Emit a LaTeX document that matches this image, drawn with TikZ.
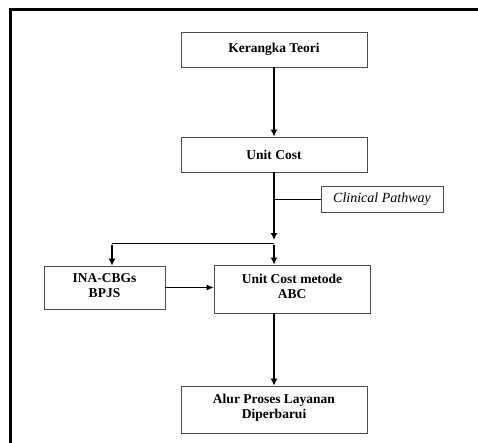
\documentclass[tikz,border=0pt]{standalone}
\usepackage{fontspec}
\setmainfont{Liberation Serif}
\usetikzlibrary{positioning,arrows.meta}

\begin{document}
\begin{tikzpicture}[x=1pt, y=-1pt, node distance=105pt]
			\tikzstyle{box} = [rectangle, draw=black!70, line width=0.8pt, align=center, inner sep=0pt, font=\fontsize{13.5}{15}\selectfont\bfseries];
			\tikzstyle{arrow} = [line width=1.3pt, ->, >={Latex[length=7pt,width=7pt]}];
			\tikzstyle{thinarrow} = [line width=0.8pt, ->, >={Latex[length=7pt,width=6pt]}];
			\tikzstyle{line} = [line width=0.8pt];
			\clip (0,0) rectangle (478,443);
			\draw [line width=3pt] (10,10) rectangle (500,470);
			\node (teori) [box, minimum width=186pt, minimum height=35pt] at (274,49.5) {Kerangka Teori};
			\node (unitcost) [box, minimum width=186pt, minimum height=35pt, below of=teori] {Unit Cost};
			\node (clinical) [box, minimum width=122pt, minimum height=26pt, font=\fontsize{14}{16}\selectfont\itshape] at (382,199) {Clinical Pathway};
			\node (ucm) [box, minimum width=156pt, minimum height=48pt] at (292,289) {Unit Cost metode\\ABC\\[-9pt]};
			\node (ina) [box, minimum width=121pt, minimum height=43pt] at (104.5,287.5) {INA-CBGs\\BPJS\\[-11pt]};
			\node (alur) [box, minimum width=186pt, minimum height=47pt] at (274,409.5) {Alur Proses Layanan\\Diperbarui\\[-8pt]};
			\coordinate (split) at (274,243);
			\coordinate (splitleft) at (112,243);
			\draw [arrow] (teori) -- (unitcost);
			\draw [arrow] (unitcost) -- ([yshift=3pt]split);
			\draw [line] (unitcost.south |- clinical.west) -- (clinical.west);
			\draw [line] (split) -- (splitleft);
			\draw [arrow] ([yshift=-2pt]split) -- (split |- ucm.north);
			\draw [arrow] ([yshift=-2pt]splitleft) -- (splitleft |- ina.north);
			\draw [thinarrow] (ina.east) -- (ucm.west |- ina.east);
			\draw [arrow] (alur.north |- ucm.south) -- (alur);
		\end{tikzpicture}
\end{document}
